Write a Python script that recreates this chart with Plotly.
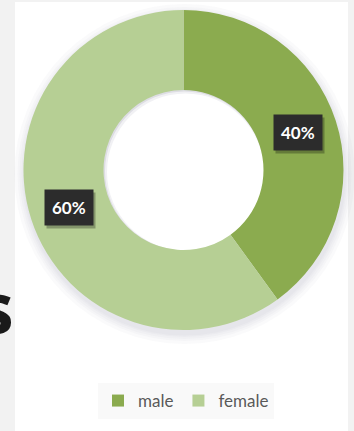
import math
import plotly.graph_objects as go

# Gender split
labels = ["male", "female"]
shares = [40, 60]
colors = ["#8bab4f", "#b6cf94"]

W, H = 354, 431
HOLE = 0.5

# pie placement in pixels
pie_left, pie_right, pie_top, pie_bottom = 22, 345, 10, 330
cx = (pie_left + pie_right) / 2
cy = (pie_top + pie_bottom) / 2
R = min(pie_right - pie_left, pie_bottom - pie_top) / 2


def px(x):
    return x / W


def py(y):
    return 1 - y / H


def circle(x0, y0, r, fill):
    return dict(type="circle", xref="paper", yref="paper",
                x0=px(x0 - r), x1=px(x0 + r), y0=py(y0 + r), y1=py(y0 - r),
                fillcolor=fill, line=dict(width=0), layer="below")


fig = go.Figure(
    go.Pie(
        labels=labels,
        values=shares,
        hole=HOLE,
        sort=False,
        direction="clockwise",
        rotation=0,
        marker=dict(colors=colors, line=dict(width=0)),
        textinfo="none",
        hoverinfo="label+percent",
        domain=dict(x=[px(pie_left), px(pie_right)], y=[py(pie_bottom), py(pie_top)]),
    )
)

shapes = [
    # white card behind the chart
    dict(type="rect", xref="paper", yref="paper", x0=px(15), x1=px(348), y0=0, y1=py(2),
         fillcolor="white", line=dict(width=0), layer="below"),
]
# soft drop shadow under the ring
for r in [170, 167, 165, 163, 161.5]:
    shapes.append(circle(cx + 1, cy + 4, r, "rgba(110,110,135,0.035)"))
# the hole: faint inner shade fading to white
shapes.append(circle(cx, cy, R * HOLE + 1, "rgba(150,150,160,0.10)"))
shapes.append(circle(cx + 1, cy + 1, R * HOLE - 0.5, "rgba(255,255,255,0.6)"))
shapes.append(circle(cx + 2, cy + 2, R * HOLE - 1.5, "white"))

annotations = [
    dict(text="s", x=px(16), y=py(306), xref="paper", yref="paper", xanchor="right", yanchor="middle",
         showarrow=False, font=dict(family="Open Sans", size=72, color="#1a1a1a", weight=700)),
]

# percentage badges at the middle of each slice
total = sum(shares)
start = 0.0
r_mid = R * (1 + HOLE) / 2
for val in shares:
    mid = (start + val / 2) / total * 2 * math.pi
    start += val
    x = cx + r_mid * math.sin(mid)
    y = cy - r_mid * math.cos(mid)
    txt = f"{round(val / total * 100)}%"
    common = dict(text=txt, x=px(x), y=py(y), xref="paper", yref="paper",
                  xanchor="center", yanchor="middle", showarrow=False, borderpad=7)
    annotations.append(dict(common, xshift=2, yshift=-3, bgcolor="rgba(0,0,0,0.28)",
                            font=dict(family="Lato", size=17, color="rgba(0,0,0,0)", weight=700)))
    annotations.append(dict(common, bgcolor="#2c2c2c",
                            font=dict(family="Lato", size=17, color="white", weight=700)))

fig.update_layout(
    width=W, height=H,
    margin=dict(l=0, r=0, t=0, b=0),
    paper_bgcolor="#f2f2f2",
    plot_bgcolor="#f2f2f2",
    shapes=shapes,
    annotations=annotations,
    showlegend=True,
    legend=dict(orientation="h", x=px(186), xanchor="center", y=py(401), yanchor="middle",
                bgcolor="rgba(246,246,246,0.7)", font=dict(family="Lato", size=17, color="#595959"),
                itemwidth=30, traceorder="normal"),
)

fig.write_html("out.html")
